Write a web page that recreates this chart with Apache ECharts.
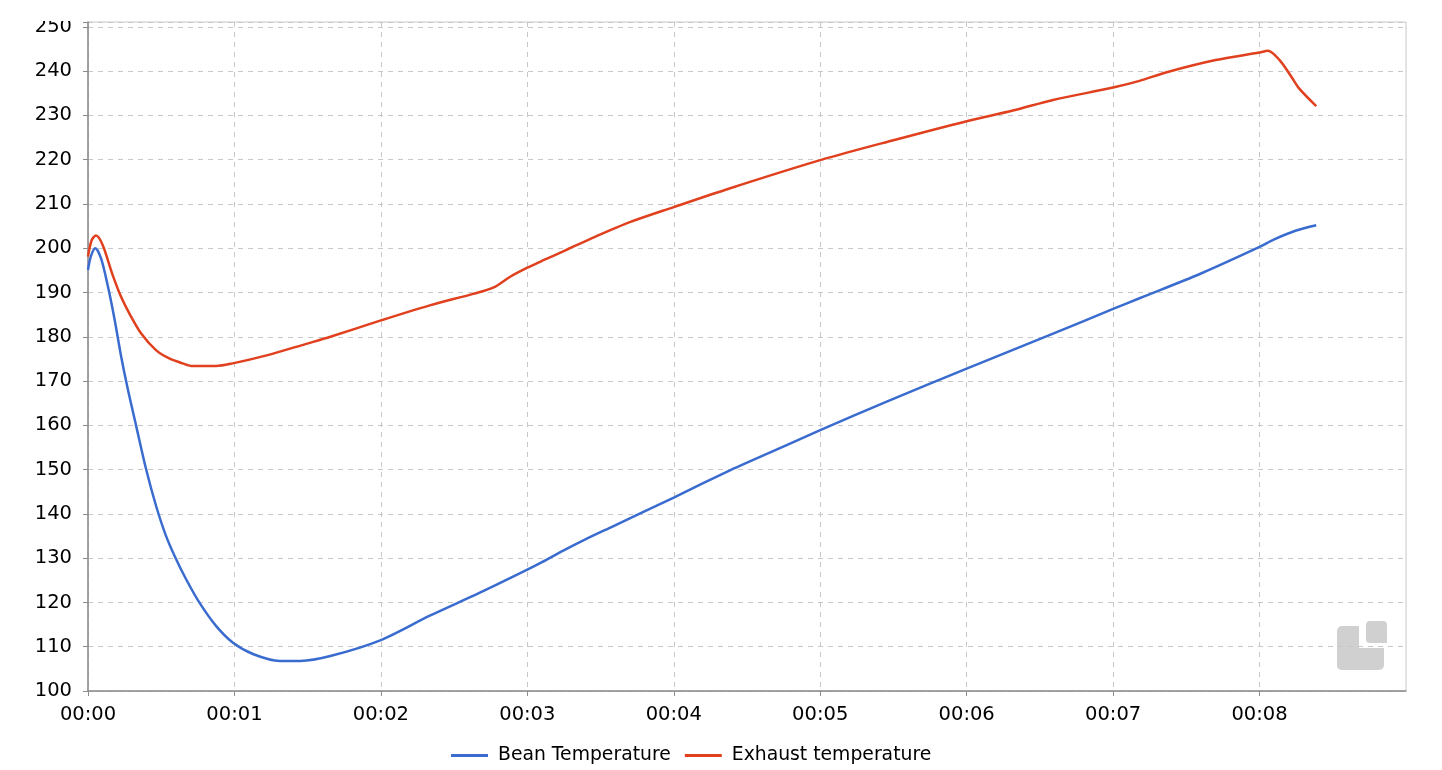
<!DOCTYPE html>
<html>
<head>
<meta charset="utf-8">
<script src="https://cdn.jsdelivr.net/npm/echarts@6/dist/echarts.min.js"></script>
<style>
html,body{margin:0;padding:0;background:#fff;}
#main{width:1442px;height:770px;}
</style>
</head>
<body>
<div id="main"></div>
<script>
// time in minutes
const beanTime = [0.00,0.02,0.05,0.089,0.134,0.18,0.225,0.271,0.328,0.396,0.464,0.532,0.601,0.669,0.76,0.874,0.99,1.13,1.31,1.45,1.655,2.0,2.334,2.676,3.0,3.1,3.245,3.4,3.585,4.0,4.38,4.496,5.0,5.45,6.0,6.59,7.0,7.18,7.6,8.0,8.1,8.25,8.387];
const beanTemp = [195.1,198.2,200.0,197.7,191.7,184.2,175.8,168.3,160.0,150.2,141.9,135.1,129.8,125.3,120.0,114.7,110.9,108.3,106.8,106.8,107.9,111.5,117.0,122.2,127.4,129.1,131.7,134.3,137.2,143.7,149.8,151.5,158.9,165.3,172.8,180.7,186.3,188.7,194.3,200.3,202.0,204.0,205.2];
const exhaustTime = [0.00,0.025,0.055,0.10,0.168,0.225,0.282,0.362,0.464,0.555,0.646,0.715,0.874,0.988,1.22,1.49,1.655,2.0,2.334,2.63,2.767,2.88,3.0,3.11,3.245,3.47,3.70,4.0,4.38,5.0,5.5,6.0,6.316,6.59,7.0,7.18,7.36,7.70,8.0,8.057,8.137,8.216,8.27,8.387];
const exhaustTemp = [198.1,201.8,202.9,200.75,194.0,189.1,185.3,180.8,177.0,175.1,174.0,173.4,173.4,174.0,175.8,178.4,180.0,183.7,187.1,189.7,191.1,193.5,195.6,197.3,199.3,202.7,205.9,209.3,213.5,219.9,224.4,228.7,231.1,233.5,236.3,237.8,239.7,242.5,244.2,244.6,242.5,238.8,236.1,232.1];
const xTicks = [0,1,2,3,4,5,6,7,8];
const seriesNames = ['Bean Temperature','Exhaust temperature'];

const pair = (xs, ys) => xs.map((x, i) => [x, ys[i]]);
const FONT = 'DejaVu Sans';
const chart = echarts.init(document.getElementById('main'), null, {renderer: 'canvas'});
chart.setOption({
  animation: false,
  backgroundColor: '#fff',
  grid: {left: 88, top: 22, right: 36, bottom: 79, show: true, borderColor: '#c8c8c8', borderWidth: 1},
  legend: {
    left: 451, top: 743, padding: [3,0,0,0], itemWidth: 37, itemHeight: 3, itemGap: 14, icon: 'rect',
    textStyle: {fontFamily: FONT, fontSize: 18.8, color: '#000', padding: [0,0,0,5]},
    data: seriesNames
  },
  xAxis: {
    type: 'value', min: 0, max: 9, interval: 1,
    axisLine: {lineStyle: {color: '#8c8c8c', width: 1.5}},
    axisTick: {show: true, length: 5, customValues: xTicks, lineStyle: {color: '#8c8c8c'}},
    axisLabel: {customValues: xTicks, fontFamily: FONT, fontSize: 19.5, color: '#000', margin: 14,
      formatter: v => '00:0' + v},
    splitLine: {show: true, lineStyle: {color: '#c8c8c8', type: [5, 5], width: 1}}
  },
  yAxis: {
    type: 'value', min: 100, max: 251.1, interval: 10,
    axisLine: {show: true, lineStyle: {color: '#8c8c8c', width: 1.5}},
    axisTick: {show: true, length: 5, lineStyle: {color: '#8c8c8c'}},
    axisLabel: {fontFamily: FONT, fontSize: 19.5, color: '#000', margin: 16,
      formatter: v => (Math.abs(v % 10) < 1e-6 ? String(v) : '')},
    splitLine: {show: true, lineStyle: {color: '#c8c8c8', type: [5, 5], width: 1}}
  },
  graphic: [
    {type: 'rect', z: 100, shape: {x: 0, y: 0, width: 86, height: 21}, style: {fill: '#fff'}},
    {type: 'group', z: 1, children: [
      {type: 'rect', shape: {x: 1337, y: 626, width: 22, height: 44, r: [5,0,0,5]}, style: {fill: '#d0d0d0'}},
      {type: 'rect', shape: {x: 1337, y: 648, width: 47, height: 22, r: [0,0,5,5]}, style: {fill: '#d0d0d0'}},
      {type: 'rect', shape: {x: 1366, y: 621, width: 21, height: 22, r: [4,4,0,4]}, style: {fill: '#d0d0d0'}}
    ]}
  ],
  series: [
    {name: seriesNames[0], type: 'line', data: pair(beanTime, beanTemp), symbol: 'none', smooth: 0.3,
      lineStyle: {color: '#3a6cd0', width: 2.5}, itemStyle: {color: '#3a6cd0'}},
    {name: seriesNames[1], type: 'line', data: pair(exhaustTime, exhaustTemp), symbol: 'none', smooth: 0.3,
      lineStyle: {color: '#e0401e', width: 2.5}, itemStyle: {color: '#e0401e'}}
  ]
});
</script>
</body>
</html>
